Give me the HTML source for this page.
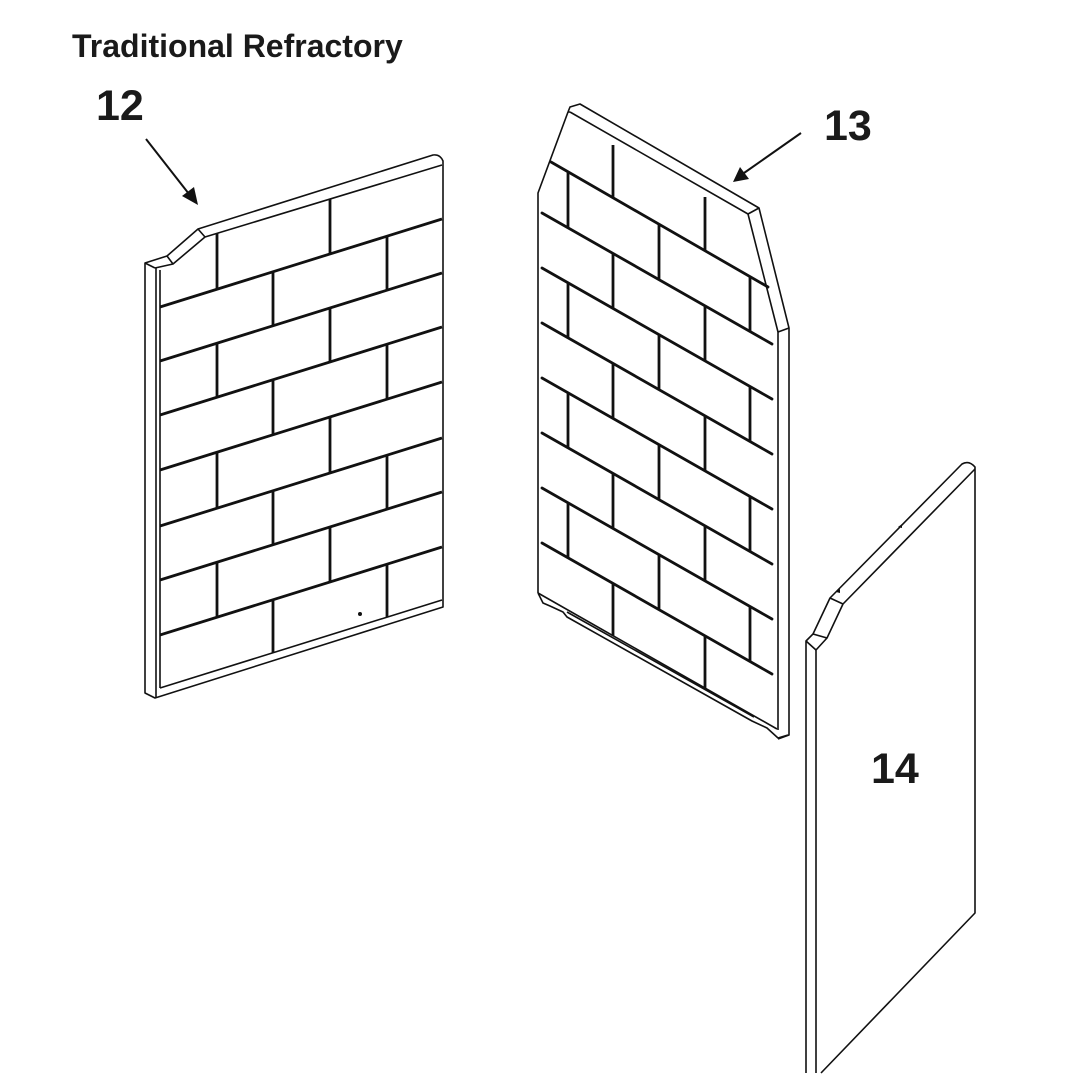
<!DOCTYPE html>
<html>
<head>
<meta charset="utf-8">
<style>
  html, body { margin: 0; padding: 0; background: #fff; }
  body { width: 1087px; height: 1087px; overflow: hidden; }
  svg { display: block; }
  text { font-family: "Liberation Sans", Arial, sans-serif; font-weight: bold; fill: #1a1a1a; }
</style>
</head>
<body>
<svg width="1087" height="1087" viewBox="0 0 1087 1087" xmlns="http://www.w3.org/2000/svg">
  <rect width="1087" height="1087" fill="#fff"/>

  <text x="72" y="57" font-size="32">Traditional Refractory</text>
  <text x="96" y="120" font-size="43">12</text>
  <text x="824" y="140" font-size="43">13</text>
  <text x="871" y="783" font-size="43">14</text>

  <!-- Arrows -->
  <g stroke="#111" stroke-width="2" fill="#111">
    <line x1="146" y1="139" x2="189" y2="194"/>
    <polygon points="198,205 182,196 194,187" stroke="none"/>
    <line x1="801" y1="133" x2="744" y2="173"/>
    <polygon points="733,182 740,167 749,179" stroke="none"/>
  </g>

  <!-- Panel 12 -->
  <g fill="none" stroke="#111" stroke-width="1.6" stroke-linejoin="round">
    <path d="M145,263 L167,256 L198,229 L433,155 Q440,154 443,161 L443,607 L155,698 L145,693 Z"/>
    <path d="M155,268 L173,264 L205,237 L442,165"/>
    <path d="M145,263 L155,268 M167,256 L173,264 M198,229 L205,237"/>
    <line x1="156" y1="268" x2="156" y2="697"/>
    <line x1="160" y1="270" x2="160" y2="688"/>
    <line x1="160" y1="688" x2="442" y2="600"/>
  </g>
  <g stroke="#111" stroke-width="2.8" stroke-linecap="butt">
    <line x1="160" y1="307" x2="442" y2="219"/>
    <line x1="160" y1="361" x2="442" y2="273"/>
    <line x1="160" y1="415" x2="442" y2="327"/>
    <line x1="160" y1="470" x2="442" y2="382"/>
    <line x1="160" y1="526" x2="442" y2="438"/>
    <line x1="160" y1="580" x2="442" y2="492"/>
    <line x1="160" y1="635" x2="442" y2="547"/>
    <!-- verticals -->
    <line x1="217" y1="233" x2="217" y2="289"/>
    <line x1="330" y1="199" x2="330" y2="254"/>
    <line x1="273" y1="272" x2="273" y2="326"/>
    <line x1="387" y1="236" x2="387" y2="290"/>
    <line x1="217" y1="343" x2="217" y2="397"/>
    <line x1="330" y1="308" x2="330" y2="362"/>
    <line x1="273" y1="380" x2="273" y2="435"/>
    <line x1="387" y1="344" x2="387" y2="399"/>
    <line x1="217" y1="452" x2="217" y2="508"/>
    <line x1="330" y1="417" x2="330" y2="473"/>
    <line x1="273" y1="491" x2="273" y2="545"/>
    <line x1="387" y1="455" x2="387" y2="509"/>
    <line x1="217" y1="562" x2="217" y2="617"/>
    <line x1="330" y1="527" x2="330" y2="582"/>
    <line x1="273" y1="600" x2="273" y2="653"/>
    <line x1="387" y1="564" x2="387" y2="617"/>
  </g>
  <circle cx="360" cy="614" r="2" fill="#111"/>

  <!-- Panel 13 -->
  <g fill="none" stroke="#111" stroke-width="1.6" stroke-linejoin="round">
    <path d="M568,112 L538,193 L538,593"/>
    <path d="M568,112 L570,107 L580,104 L759,208 L789,328 L789,735 L778,739"/>
    <path d="M570,112 L748,214 L778,332 L778,730"/>
    <path d="M568,112 L570,112 M759,208 L748,214 M789,328 L778,332"/>
    <path d="M538,593 L777,729"/>
    <path d="M538,593 L543,603 L550,606 L563,612 L567,617 L752,721 L767,728 L778,738 L788,735"/>
    <path d="M567,612 L754,717"/>
  </g>
  <g stroke="#111" stroke-width="2.8" stroke-linecap="round">
    <line x1="551" y1="162" x2="768" y2="287"/>
    <line x1="542" y1="213" x2="772" y2="344"/>
    <line x1="542" y1="268" x2="772" y2="399"/>
    <line x1="542" y1="323" x2="772" y2="454"/>
    <line x1="542" y1="378" x2="772" y2="509"/>
    <line x1="542" y1="433" x2="772" y2="564"/>
    <line x1="542" y1="488" x2="772" y2="619"/>
    <line x1="542" y1="543" x2="772" y2="674"/>
  </g>
  <g stroke="#111" stroke-width="2.8">
    <line x1="613" y1="145" x2="613" y2="198"/>
    <line x1="705" y1="197" x2="705" y2="251"/>
    <line x1="568" y1="172" x2="568" y2="227"/>
    <line x1="659" y1="224" x2="659" y2="279"/>
    <line x1="750" y1="276" x2="750" y2="331"/>
    <line x1="613" y1="253" x2="613" y2="308"/>
    <line x1="705" y1="306" x2="705" y2="361"/>
    <line x1="568" y1="282" x2="568" y2="337"/>
    <line x1="659" y1="334" x2="659" y2="389"/>
    <line x1="750" y1="386" x2="750" y2="441"/>
    <line x1="613" y1="363" x2="613" y2="418"/>
    <line x1="705" y1="416" x2="705" y2="471"/>
    <line x1="568" y1="392" x2="568" y2="447"/>
    <line x1="659" y1="444" x2="659" y2="499"/>
    <line x1="750" y1="496" x2="750" y2="551"/>
    <line x1="613" y1="473" x2="613" y2="528"/>
    <line x1="705" y1="526" x2="705" y2="581"/>
    <line x1="568" y1="502" x2="568" y2="557"/>
    <line x1="659" y1="554" x2="659" y2="609"/>
    <line x1="750" y1="606" x2="750" y2="661"/>
    <line x1="613" y1="583" x2="613" y2="636"/>
    <line x1="705" y1="636" x2="705" y2="688"/>
  </g>

  <!-- Panel 14 -->
  <g fill="none" stroke="#111" stroke-width="1.6" stroke-linejoin="round">
    <path d="M806,1073 L806,641 L813,634 L830,598 L962,464 Q969,460 975,467 L975,913 L821,1073"/>
    <path d="M816,1073 L816,650 L827,638 L843,604 L975,469"/>
    <path d="M806,641 L816,650 M813,634 L827,638 M830,598 L843,604"/>
  </g>
  <path d="M898,527 l4,-3 l0,4 z M836,592 l4,-3 l0,4 z" fill="#111"/>
</svg>
</body>
</html>
